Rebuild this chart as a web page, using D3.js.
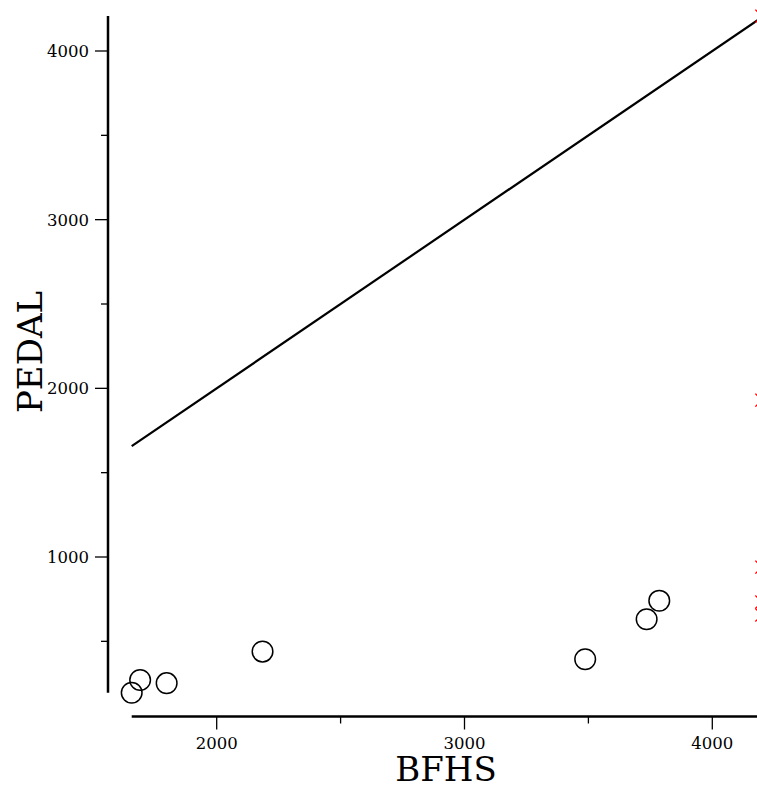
<!DOCTYPE html>
<html>
<head>
<meta charset="utf-8">
<script src="https://cdn.jsdelivr.net/npm/d3@7"></script>
<style>
html,body{margin:0;padding:0;background:#fff;overflow:hidden;}
svg{display:block;}
text{font-family:"DejaVu Serif","Liberation Serif",serif;fill:#000;}
</style>
</head>
<body>
<svg id="chart" width="757" height="787"></svg>
<script>
// Data
const bfhs  = [1657, 1691, 1798, 2185, 3487, 3735, 3786];
const pedal = [195, 271, 252, 439, 394, 631, 741];
const redX  = [4200, 4200, 4200, 4200, 4200];
const redY  = [4207, 1930, 940, 733, 656];
const xMajor = [2000, 3000, 4000];
const xMinor = [2500, 3500];
const yMajor = [1000, 2000, 3000, 4000];
const yMinor = [500, 1500, 2500, 3500];
const xTitle = "BFHS";
const yTitle = "PEDAL";

const svg = d3.select("#chart");
const x = d3.scaleLinear().domain([2000, 4000]).range([216.7, 712.3]);
const y = d3.scaleLinear().domain([1000, 4000]).range([557, 51]);

const allX = bfhs.concat(redX), allY = pedal.concat(redY);
const xExt = d3.extent(allX), yExt = d3.extent(allY);
const axX = 108, axY = 716.5;

// Y axis
svg.append("line").attr("x1", axX).attr("x2", axX)
  .attr("y1", y(yExt[1])).attr("y2", y(yExt[0]))
  .attr("stroke", "#000").attr("stroke-width", 2.5);
svg.selectAll(".ytM").data(yMajor).join("line")
  .attr("x1", axX - 13).attr("x2", axX).attr("y1", d => y(d)).attr("y2", d => y(d))
  .attr("stroke", "#000").attr("stroke-width", 1.3);
svg.selectAll(".ytm").data(yMinor).join("line")
  .attr("x1", axX - 7).attr("x2", axX).attr("y1", d => y(d)).attr("y2", d => y(d))
  .attr("stroke", "#000").attr("stroke-width", 1.3);
svg.selectAll(".ytl").data(yMajor).join("text")
  .attr("x", axX - 19).attr("y", d => y(d) + 6)
  .attr("text-anchor", "end").attr("font-size", 16.5).text(d => d);

// X axis
svg.append("line").attr("x1", x(xExt[0])).attr("x2", x(xExt[1]))
  .attr("y1", axY).attr("y2", axY)
  .attr("stroke", "#000").attr("stroke-width", 2.5);
svg.selectAll(".xtM").data(xMajor).join("line")
  .attr("x1", d => x(d)).attr("x2", d => x(d)).attr("y1", axY).attr("y2", axY + 13)
  .attr("stroke", "#000").attr("stroke-width", 1.3);
svg.selectAll(".xtm").data(xMinor).join("line")
  .attr("x1", d => x(d)).attr("x2", d => x(d)).attr("y1", axY).attr("y2", axY + 7)
  .attr("stroke", "#000").attr("stroke-width", 1.3);
svg.selectAll(".xtl").data(xMajor).join("text")
  .attr("x", d => x(d)).attr("y", 749)
  .attr("text-anchor", "middle").attr("font-size", 16.5).text(d => d);

// Titles
svg.append("text").attr("x", 446).attr("y", 781).attr("text-anchor", "middle")
  .attr("font-size", 34).text(xTitle);
svg.append("text").attr("transform", "translate(42,352) rotate(-90)")
  .attr("text-anchor", "middle").attr("font-size", 34).text(yTitle);

// Identity line
const lo = xExt[0], hi = Math.max(xExt[1], yExt[1]);
svg.append("line").attr("x1", x(lo)).attr("y1", y(lo)).attr("x2", x(hi)).attr("y2", y(hi))
  .attr("stroke", "#000").attr("stroke-width", 2.2);

// Circles
svg.selectAll(".pt").data(bfhs).join("circle")
  .attr("cx", d => x(d)).attr("cy", (d, i) => y(pedal[i])).attr("r", 10.3)
  .attr("fill", "none").attr("stroke", "#000").attr("stroke-width", 1.5);

// Red crosses (mostly off-canvas)
const s = 6.5;
redX.forEach((d, i) => {
  const cx = x(d), cy = y(redY[i]);
  svg.append("path")
    .attr("d", `M${cx - s},${cy - s}L${cx + s},${cy + s}M${cx - s},${cy + s}L${cx + s},${cy - s}`)
    .attr("stroke", "red").attr("stroke-width", 1.3).attr("fill", "none");
});
</script>
</body>
</html>
